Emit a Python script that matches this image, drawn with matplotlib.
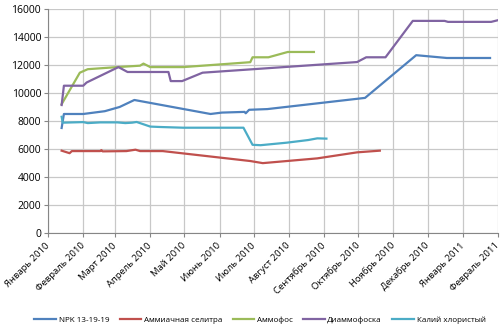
import numpy as np
import matplotlib
matplotlib.use("Agg")
import matplotlib.pyplot as plt

plt.rcParams['font.family'] = ['Open Sans', 'DejaVu Sans']

# цены по видам удобрений, руб/т
npk_dates = ['2010-01-13', '2010-01-15', '2010-02-01', '2010-02-20', '2010-03-05', '2010-03-18',
             '2010-05-24', '2010-06-03', '2010-06-23', '2010-06-24', '2010-06-27', '2010-07-13',
             '2010-10-07', '2010-11-21', '2010-12-18', '2011-01-25']
npk_vals = [7500, 8500, 8500, 8700, 9000, 9500,
            8500, 8600, 8650, 8550, 8800, 8850,
            9650, 12700, 12500, 12500]

selitra_dates = ['2010-01-13', '2010-01-20', '2010-01-22', '2010-02-16', '2010-02-17', '2010-02-18',
                 '2010-03-11', '2010-03-19', '2010-03-23', '2010-04-12', '2010-06-28', '2010-07-09',
                 '2010-08-26', '2010-09-30', '2010-10-20']
selitra_vals = [5880, 5700, 5850, 5850, 5920, 5830,
                5850, 5950, 5850, 5850, 5140, 4990,
                5330, 5760, 5880]

ammofos_dates = ['2010-01-13', '2010-01-29', '2010-02-05', '2010-03-03', '2010-03-23', '2010-03-26',
                 '2010-04-01', '2010-04-30', '2010-06-28', '2010-06-30', '2010-07-14', '2010-07-31',
                 '2010-08-23']
ammofos_vals = [9200, 11450, 11700, 11850, 11950, 12100,
                11850, 11850, 12200, 12550, 12550, 12930,
                12930]

diammofoska_dates = ['2010-01-13', '2010-01-15', '2010-02-01', '2010-02-04', '2010-03-04', '2010-03-12',
                     '2010-04-17', '2010-04-19', '2010-04-29', '2010-05-17', '2010-07-15', '2010-09-30',
                     '2010-10-08', '2010-10-25', '2010-11-18', '2010-12-16', '2010-12-19', '2011-01-26',
                     '2011-02-01']
diammofoska_vals = [9140, 10520, 10520, 10750, 11850, 11500,
                    11500, 10850, 10850, 11450, 11780, 12210,
                    12550, 12550, 15150, 15150, 15080, 15080,
                    15200]

kaliy_dates = ['2010-01-13', '2010-01-14', '2010-02-01', '2010-02-05', '2010-02-16', '2010-03-03',
               '2010-03-10', '2010-03-16', '2010-03-20', '2010-04-01', '2010-04-10', '2010-04-30',
               '2010-06-22', '2010-06-30', '2010-07-07', '2010-07-30', '2010-08-18', '2010-08-26',
               '2010-09-03']
kaliy_vals = [8300, 7880, 7920, 7850, 7900, 7900,
              7850, 7880, 7930, 7600, 7570, 7520,
              7520, 6300, 6270, 6450, 6640, 6760,
              6740]

series = [
    ('NPK 13-19-19', npk_dates, npk_vals, '#4F81BD'),
    ('Аммиачная селитра', selitra_dates, selitra_vals, '#C0504D'),
    ('Аммофос', ammofos_dates, ammofos_vals, '#9BBB59'),
    ('Диаммофоска', diammofoska_dates, diammofoska_vals, '#8064A2'),
    ('Калий хлористый', kaliy_dates, kaliy_vals, '#4BACC6'),
]

month_names = ['Январь', 'Февраль', 'Март', 'Апрель', 'Май', 'Июнь', 'Июль',
               'Август', 'Сентябрь', 'Октябрь', 'Ноябрь', 'Декабрь']
month_ticks = np.arange('2010-01', '2011-03', dtype='datetime64[M]').astype('datetime64[D]')
month_labels = ['%s %d' % (month_names[i % 12], 2010 + i // 12) for i in range(len(month_ticks))]

fig = plt.figure(figsize=(5.0, 3.27), dpi=100)
ax = fig.add_axes([0.096, 0.2875, 0.9, 0.685])

for name, d, v, c in series:
    ax.plot(np.array(d, dtype='datetime64[D]'), v, color=c, lw=1.6, label=name)

ax.set_xlim(month_ticks[0], month_ticks[-1])
ax.set_ylim(0, 16000)
ax.set_yticks(np.arange(0, 16001, 2000))
ax.set_xticks(month_ticks)
ax.set_xticklabels(month_labels, rotation=45, ha='right', va='center',
                   rotation_mode='anchor', fontsize=6.8)
ax.tick_params(axis='y', labelsize=7.5, length=3, color='#868686', pad=2)
ax.tick_params(axis='x', length=3, color='#868686', pad=5)

ax.grid(True, color='#C8C8C8', lw=0.9)
ax.set_axisbelow(True)
for side in ['top', 'right']:
    ax.spines[side].set_visible(False)
ax.spines['left'].set_color('#868686')
ax.spines['bottom'].set_color('#868686')

fig.legend(loc='lower center', bbox_to_anchor=(0.52, -0.012), ncol=5, frameon=False,
           fontsize=5.8, handlelength=2.7, columnspacing=1.3, handletextpad=0.3)

fig.savefig('out.png', dpi=100)
